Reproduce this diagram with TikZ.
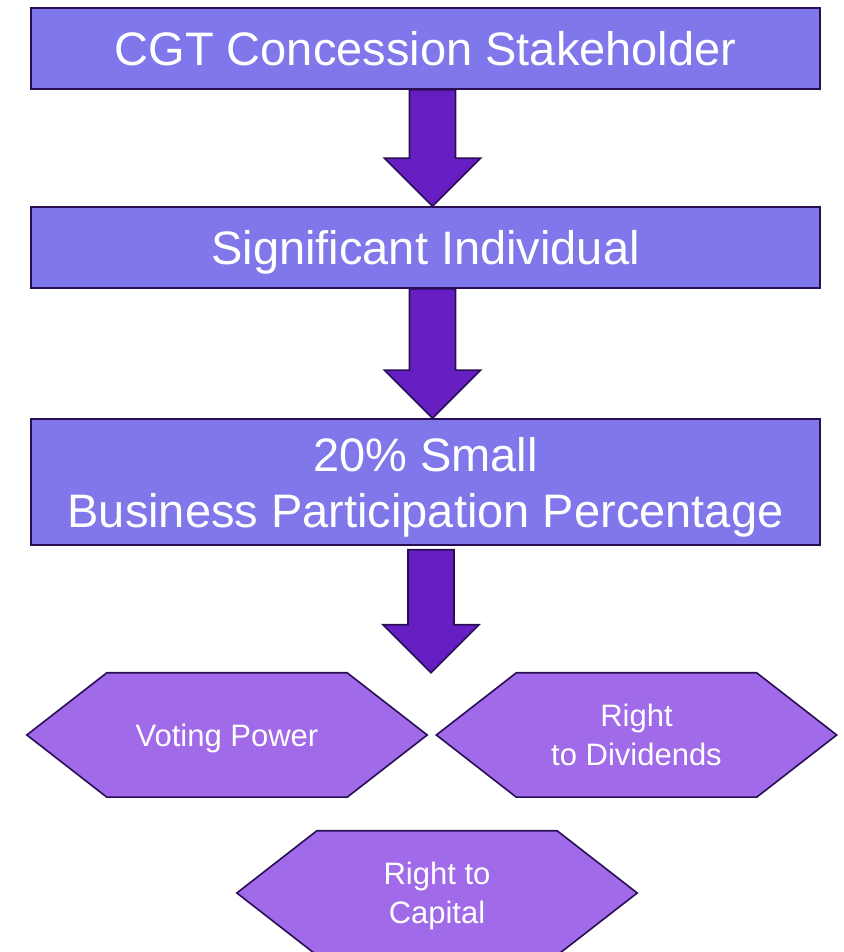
\documentclass[tikz,border=0pt]{standalone}
\usepackage{fontspec}
\setmainfont{Liberation Sans}
\usetikzlibrary{calc,backgrounds}

\definecolor{boxblue}{HTML}{8078EA}
\definecolor{arrowpurple}{HTML}{661EC2}
\definecolor{hexpurple}{HTML}{A06AE8}
\definecolor{edgedark}{HTML}{2A0E55}

% fat down arrow from #1 (top of shaft) to #2 (tip)
\newcommand{\blockarrow}[2]{%
  \draw[arrowbody] ($(#1)+(-23,0)$) -- ($(#2)+(-23,48)$) -- ($(#2)+(-48,48)$)
    -- (#2) -- ($(#2)+(48,48)$) -- ($(#2)+(23,48)$) -- ($(#1)+(23,0)$) -- cycle;}

\begin{document}
\begin{tikzpicture}[x=1pt,y=1pt,
  stagebox/.style={draw=edgedark, line width=1.6pt, fill=boxblue, text=white,
    minimum width=789pt, inner sep=0pt, align=center, text depth=0pt,
    font=\fontsize{47}{56}\selectfont},
  hexbox/.style={minimum width=400pt, minimum height=124pt, inner sep=0pt,
    text=white, align=center, text depth=0pt, font=\fontsize{31}{39}\selectfont},
  hexline/.style={draw=edgedark, line width=1.6pt, fill=hexpurple},
  arrowbody/.style={draw=edgedark, line width=1.6pt, fill=arrowpurple}]
\useasboundingbox (0,0) rectangle (843,952);

% the three stages
\node[stagebox, minimum height=81pt] (stake) at (425.5,903.5) {CGT Concession Stakeholder};
\node[stagebox, minimum height=81pt] (indiv) at (425.5,704.5) {Significant Individual};
\node[stagebox, minimum height=126pt] (pct) at (425.5,470) {20\% Small\\Business Participation Percentage};

% what the percentage is measured on
\node[hexbox] (vote) at (227,217) {Voting Power};
\node[hexbox] (divs) at (636.5,217) {Right\\to Dividends};
\node[hexbox] (cap) at (437,59) {Right to\\Capital};

% hexagon outlines behind the text
\begin{scope}[on background layer]
\foreach \h in {vote,divs,cap}
  \draw[hexline] (\h.west) -- ($(\h.north west)+(80,0)$) -- ($(\h.north east)+(-80,0)$)
    -- (\h.east) -- ($(\h.south east)+(-80,0)$) -- ($(\h.south west)+(80,0)$) -- cycle;
\end{scope}

% arrows
\coordinate (a1) at ($(stake.south)+(7,0)$);
\coordinate (b1) at (a1 |- indiv.north);
\coordinate (a2) at ($(indiv.south)+(7,0)$);
\coordinate (b2) at (a2 |- pct.north);
\coordinate (a3) at ($(pct.south)+(5.5,-4)$);
\coordinate (b3) at (a3 |- vote.north);
\blockarrow{a1}{b1}
\blockarrow{a2}{b2}
\blockarrow{a3}{b3}
\end{tikzpicture}
\end{document}
